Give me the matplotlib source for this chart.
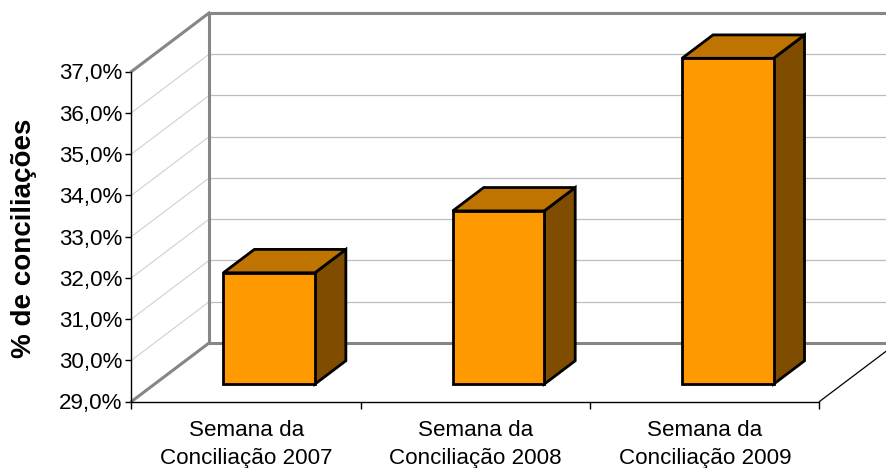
import matplotlib
matplotlib.use("Agg")
import matplotlib.pyplot as plt
from matplotlib.patches import Polygon

plt.rcParams["font.family"] = ["Liberation Sans", "DejaVu Sans"]

# Values
categories = ["Semana da\nConciliação 2007", "Semana da\nConciliação 2008", "Semana da\nConciliação 2009"]
values = [31.7, 33.2, 36.9]
y_ticks = [29, 30, 31, 32, 33, 34, 35, 36, 37]
y_labels = ["29,0%", "30,0%", "31,0%", "32,0%", "33,0%", "34,0%", "35,0%", "36,0%", "37,0%"]

# Depth of the fake 3D box, in data units per unit of depth
DX = 77.5 / 229.3
DY = 58.5 / 41.25
bar_width = 0.399
depth_start = 0.296
depth_size = 0.4
GRAY = "#868686"


def project(x, v, d):
    return x + d * DX, v + d * DY


fig = plt.figure(figsize=(8.87, 4.68), dpi=100)
ax = fig.add_axes([131.5 / 887, 66.5 / 468, 688 / 887, 330 / 468])
ax.set_xlim(0, 3)
ax.set_ylim(29, 37)

# Walls: gridlines on the side and the back
for v in y_ticks[1:-1]:
    ax.plot(*zip(project(0, v, 0), project(0, v, 1)), color="#d0d0d0", lw=0.8, clip_on=False, zorder=1)
    ax.plot(*zip(project(0, v, 1), project(3, v, 1)), color="#bdbdbd", lw=0.9, clip_on=False, zorder=1)

# Heavy outline of the walls
for p, q in [
    ((0, 29, 0), (0, 29, 1)),
    ((0, 37, 0), (0, 37, 1)),
    ((0, 29, 1), (0, 37, 1)),
    ((0, 29, 1), (3, 29, 1)),
    ((0, 37, 1), (3, 37, 1)),
]:
    ax.plot(*zip(project(*p), project(*q)), color=GRAY, lw=2.2, clip_on=False, zorder=2, solid_capstyle="projecting")
ax.plot(*zip(project(3, 29, 0), project(3, 29, 1)), color="black", lw=0.9, clip_on=False, zorder=2)

# Bars as three faces each
for i, val in enumerate(values):
    d0, d1 = depth_start, depth_start + depth_size
    left = i + 0.5 - bar_width / 2
    right = i + 0.5 + bar_width / 2
    base = 29
    front = [project(left, base, d0), project(right, base, d0), project(right, val, d0), project(left, val, d0)]
    side = [project(right, base, d0), project(right, base, d1), project(right, val, d1), project(right, val, d0)]
    top = [project(left, val, d0), project(right, val, d0), project(right, val, d1), project(left, val, d1)]
    for pts, col in [(side, "#804D00"), (top, "#BF7300"), (front, "#FF9900")]:
        ax.add_patch(Polygon(pts, closed=True, facecolor=col, edgecolor="black", lw=2.0, joinstyle="miter", clip_on=False, zorder=3))

# Axes
ax.spines["top"].set_visible(False)
ax.spines["right"].set_visible(False)
ax.spines["left"].set_linewidth(1.0)
ax.spines["bottom"].set_linewidth(1.0)
ax.set_yticks(y_ticks)
ax.set_yticklabels(y_labels, fontsize=16.1)
ax.tick_params(axis="y", length=4.3, width=1.0, pad=2)
ax.set_xticks([0, 1, 2, 3])
ax.set_xticklabels([])
ax.tick_params(axis="x", which="major", length=5, width=1.0)
ax.set_xticks([0.5, 1.5, 2.5], minor=True)
ax.set_xticklabels(categories, minor=True, fontsize=16.1, linespacing=1.4)
ax.tick_params(axis="x", which="minor", length=0, pad=13.5)
ax.patch.set_alpha(0)

fig.text(24.5 / 887, 1 - 238 / 468, "% de conciliações", rotation=90, ha="center", va="center", fontsize=20, fontweight="bold")

fig.savefig("out.png", dpi=100)
